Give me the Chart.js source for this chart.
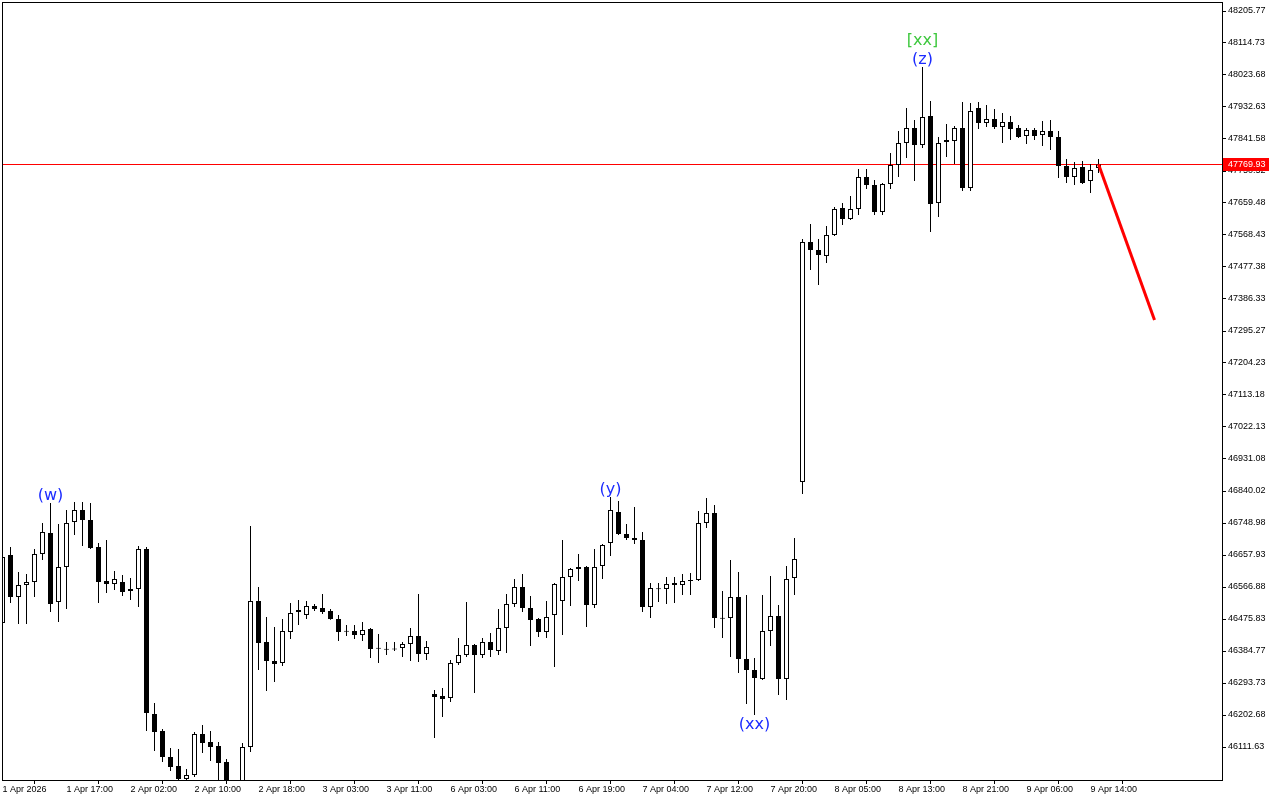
<!DOCTYPE html>
<html>
<head>
<meta charset="utf-8">
<script src="https://cdn.jsdelivr.net/npm/chart.js@4.4.1/dist/chart.umd.min.js"></script>
<style>
    html, body { margin: 0; padding: 0; background: #fff; }
    canvas { display: block; }
</style>
</head>
<body>
<canvas id="chartId" width="1280" height="800"></canvas>
<script>
// hourly bars
var opens = [46464.4, 46657.9, 46538.4, 46572.6, 46581.1, 46660.8, 46720.5, 46524.2, 46623.8, 46751.8,
    46786.0, 46757.5, 46680.7, 46584.0, 46575.4, 46581.1, 46555.5, 46561.2, 46675.0, 46205.5,
    46157.2, 46083.2, 46057.6, 46020.6, 46032.0, 46148.6, 46125.9, 46114.5, 46069.0, 46008.0,
    46012.1, 46111.6, 46527.0, 46410.4, 46356.3, 46350.6, 46438.8, 46495.8, 46487.2, 46512.8,
    46507.1, 46498.6, 46475.8, 46441.7, 46441.7, 46430.3, 46447.4, 46393.3, 46390.5, 46390.5,
    46393.3, 46404.7, 46427.5, 46376.2, 46262.4, 46256.7, 46251.1, 46350.6, 46373.4, 46401.9,
    46373.4, 46410.4, 46384.8, 46450.2, 46518.5, 46566.9, 46507.1, 46475.8, 46438.8, 46487.2,
    46527.0, 46595.3, 46618.1, 46623.8, 46515.7, 46626.6, 46692.1, 46780.3, 46717.7, 46706.3,
    46700.6, 46510.0, 46561.2, 46561.2, 46578.3, 46572.6, 46586.8, 46586.8, 46749.0, 46777.4,
    46478.7, 46478.7, 46538.4, 46362.0, 46330.7, 46305.1, 46441.7, 46484.4, 46305.1, 46592.5,
    46865.6, 47548.5, 47525.7, 47508.7, 47568.4, 47645.3, 47614.0, 47642.4, 47733.5, 47710.7,
    47633.9, 47713.5, 47767.6, 47830.2, 47872.9, 47824.5, 47907.0, 47659.5, 47833.0, 47835.9,
    47872.9, 47702.2, 47929.8, 47887.1, 47898.5, 47875.7, 47889.9, 47872.9, 47850.1, 47867.2,
    47853.0, 47864.3, 47847.3, 47764.8, 47733.5, 47761.9, 47722.1, 47759.1];
var highs = [46672.2, 46680.7, 46609.6, 46603.9, 46675.0, 46749.0, 46805.9, 46746.1, 46786.0, 46808.7,
    46808.7, 46805.9, 46692.1, 46700.6, 46612.4, 46601.0, 46592.5, 46683.5, 46680.7, 46236.8,
    46162.9, 46108.8, 46105.9, 46049.0, 46154.3, 46174.2, 46157.2, 46125.9, 46077.5, 46012.0,
    46123.0, 46740.4, 46566.9, 46481.5, 46453.1, 46475.8, 46521.4, 46529.9, 46527.0, 46518.5,
    46547.0, 46504.3, 46487.2, 46458.8, 46458.8, 46467.3, 46450.2, 46433.2, 46410.4, 46410.4,
    46410.4, 46450.2, 46547.0, 46413.2, 46273.8, 46279.5, 46359.2, 46421.8, 46524.2, 46404.7,
    46421.8, 46436.0, 46504.3, 46547.0, 46589.6, 46603.9, 46541.3, 46478.7, 46527.0, 46578.3,
    46700.6, 46620.9, 46660.8, 46626.6, 46675.0, 46689.2, 46823.0, 46811.6, 46746.1, 46794.5,
    46723.4, 46578.3, 46578.3, 46595.3, 46595.3, 46603.9, 46606.7, 46783.1, 46820.1, 46800.2,
    46555.5, 46643.7, 46609.6, 46544.1, 46364.9, 46544.1, 46598.2, 46515.7, 46626.6, 46706.3,
    47557.0, 47599.7, 47557.0, 47594.0, 47648.1, 47659.5, 47679.4, 47756.2, 47756.2, 47724.9,
    47716.4, 47801.7, 47864.3, 47929.8, 47895.6, 48046.4, 47949.7, 47847.3, 47884.3, 47878.6,
    47946.9, 47944.0, 47946.9, 47938.3, 47926.9, 47915.6, 47907.0, 47881.4, 47872.9, 47872.9,
    47892.8, 47895.6, 47864.3, 47784.7, 47776.1, 47779.0, 47770.4, 47784.7];
var lows = [46458.8, 46521.4, 46461.6, 46461.6, 46538.4, 46643.7, 46495.8, 46467.3, 46504.3, 46714.8,
    46683.5, 46675.0, 46521.4, 46549.8, 46558.3, 46541.3, 46529.9, 46510.0, 46157.2, 46100.3,
    46069.0, 46043.3, 46012.1, 46009.2, 46026.3, 46094.6, 46071.8, 46014.9, 46003.5, 45975.0,
    45989.3, 46097.4, 46330.7, 46271.0, 46296.6, 46342.1, 46418.9, 46458.8, 46475.8, 46498.6,
    46490.1, 46474.0, 46413.2, 46427.5, 46418.9, 46413.2, 46364.9, 46350.6, 46373.4, 46384.8,
    46367.7, 46356.3, 46353.5, 46359.2, 46137.2, 46197.0, 46239.7, 46345.0, 46367.7, 46265.3,
    46364.9, 46367.7, 46373.4, 46379.1, 46510.0, 46495.8, 46399.0, 46424.6, 46421.8, 46339.3,
    46430.3, 46512.8, 46584.0, 46453.1, 46507.1, 46589.6, 46655.1, 46714.8, 46700.6, 46689.2,
    46495.8, 46478.7, 46524.2, 46518.5, 46521.4, 46544.1, 46544.1, 46584.0, 46734.8, 46450.2,
    46421.8, 46367.7, 46322.2, 46234.0, 46202.7, 46302.3, 46399.0, 46259.6, 46245.4, 46544.1,
    46831.5, 47468.8, 47426.2, 47488.8, 47565.6, 47596.9, 47611.1, 47625.3, 47699.3, 47625.3,
    47625.3, 47699.3, 47733.5, 47787.5, 47722.1, 47816.0, 47577.0, 47619.6, 47790.4, 47770.4,
    47693.6, 47693.6, 47870.0, 47875.7, 47870.0, 47830.2, 47838.7, 47844.4, 47827.4, 47838.7,
    47821.7, 47810.3, 47730.6, 47716.4, 47710.7, 47713.5, 47687.9, 47744.8];
var closes = [46652.2, 46538.4, 46572.6, 46581.1, 46660.8, 46723.4, 46518.5, 46623.8, 46749.0, 46786.0,
    46757.5, 46677.9, 46581.1, 46575.4, 46589.6, 46552.7, 46561.2, 46675.0, 46208.4, 46154.3,
    46083.2, 46054.7, 46020.6, 46032.0, 46148.6, 46123.0, 46111.6, 46066.1, 46014.9, 46000.0,
    46111.6, 46527.0, 46407.5, 46356.3, 46347.8, 46441.7, 46492.9, 46501.4, 46512.8, 46504.3,
    46495.8, 46475.8, 46438.8, 46440.5, 46430.3, 46444.5, 46390.5, 46392.0, 46389.5, 46389.8,
    46404.7, 46427.5, 46376.2, 46396.2, 46253.9, 46248.2, 46350.6, 46373.4, 46401.9, 46373.4,
    46410.4, 46387.6, 46450.2, 46518.5, 46566.9, 46507.1, 46473.0, 46438.8, 46481.5, 46575.4,
    46595.3, 46618.1, 46623.8, 46515.7, 46623.8, 46686.4, 46786.0, 46717.7, 46706.3, 46700.6,
    46510.0, 46564.0, 46562.5, 46575.4, 46572.6, 46584.0, 46584.0, 46749.0, 46777.4, 46478.7,
    46477.3, 46538.4, 46362.0, 46330.7, 46308.0, 46441.7, 46484.4, 46305.1, 46589.6, 46646.6,
    47548.5, 47525.7, 47511.5, 47568.4, 47642.4, 47614.0, 47642.4, 47733.5, 47710.7, 47633.9,
    47713.5, 47767.6, 47830.2, 47872.9, 47824.5, 47904.2, 47656.6, 47830.2, 47838.7, 47872.9,
    47702.2, 47921.2, 47887.1, 47898.5, 47875.7, 47889.9, 47870.0, 47847.3, 47867.2, 47850.1,
    47864.3, 47847.3, 47764.8, 47733.5, 47759.1, 47716.4, 47753.4, 47769.93];

var timeLabels = ['1 Apr 2026', '1 Apr 17:00', '2 Apr 02:00', '2 Apr 10:00', '2 Apr 18:00', '3 Apr 03:00',
    '3 Apr 11:00', '6 Apr 03:00', '6 Apr 11:00', '6 Apr 19:00', '7 Apr 04:00', '7 Apr 12:00',
    '7 Apr 20:00', '8 Apr 05:00', '8 Apr 13:00', '8 Apr 21:00', '9 Apr 06:00', '9 Apr 14:00'];
var priceTicks = [48205.77, 48114.73, 48023.68, 47932.63, 47841.58, 47750.52, 47659.48, 47568.43,
    47477.38, 47386.33, 47295.27, 47204.23, 47113.18, 47022.13, 46931.08, 46840.02, 46748.98,
    46657.93, 46566.88, 46475.83, 46384.77, 46293.73, 46202.68, 46111.63];
var lastPrice = 47769.93;
var forecastX = [137, 144];
var forecastY = [47769.93, 47326.6];
var waveText = ['(w)', '(y)', '(xx)', '(z)', '[xx]'];
var waveIdx = [6, 76, 94, 115, 115];
var waveSide = ['high', 'high', 'low', 'high', 'high'];

var barsPerLabel = 8;
var fontName = '"Liberation Sans", Arial, sans-serif';

var wicks = [];
var bodies = [];
var bodyColors = [];
for (var i = 0; i < opens.length; i++) {
    var o = opens[i], c = closes[i];
    wicks.push({x: i, y: [lows[i], highs[i]]});
    if (Math.abs(o - c) < 2) {
        var mid = (o + c) / 2;
        bodies.push({x: i, y: [mid - 1.4, mid + 1.4]});
        bodyColors.push('#000000');
    } else {
        bodies.push({x: i, y: [Math.min(o, c), Math.max(o, c)]});
        bodyColors.push(c > o ? '#ffffff' : '#000000');
    }
}
var forecast = forecastX.map(function(x, k) { return {x: x, y: forecastY[k]}; });

var overlay = {
    id: 'overlay',
    beforeDatasetsDraw: function(chart) {
        var ctx = chart.ctx, a = chart.chartArea;
        var py = Math.round(chart.scales.y.getPixelForValue(lastPrice)) + 0.5;
        ctx.save();
        ctx.strokeStyle = '#ff0000';
        ctx.lineWidth = 1;
        ctx.beginPath();
        ctx.moveTo(a.left, py);
        ctx.lineTo(a.right, py);
        ctx.stroke();
        ctx.restore();
    },
    afterDraw: function(chart) {
        var ctx = chart.ctx, a = chart.chartArea;
        var xs = chart.scales.x, ys = chart.scales.y;
        ctx.save();
        // frame
        ctx.strokeStyle = '#000000';
        ctx.lineWidth = 1;
        ctx.strokeRect(a.left + 0.5, a.top + 0.5, a.right - a.left, a.bottom - a.top);

        // wave labels
        ctx.font = '16px "DejaVu Sans", sans-serif';
        ctx.textAlign = 'center';
        ctx.textBaseline = 'middle';
        var stack = {};
        for (var k = 0; k < waveText.length; k++) {
            var i = waveIdx[k];
            var n = stack[i] || 0;
            stack[i] = n + 1;
            var px = xs.getPixelForValue(i);
            var ty;
            if (waveSide[k] === 'high') {
                ty = ys.getPixelForValue(highs[i]) - 7 - n * 19;
            } else {
                ty = ys.getPixelForValue(lows[i]) + 10;
            }
            ctx.fillStyle = waveText[k].charAt(0) === '[' ? '#3ec83e' : '#1c2cff';
            ctx.fillText(waveText[k], px, ty);
        }

        // last price tag
        var py = Math.round(ys.getPixelForValue(lastPrice));
        ctx.fillStyle = '#ff0000';
        ctx.fillRect(a.right + 1, py - 6, 46, 13);
        ctx.fillStyle = '#ffffff';
        ctx.font = '9px ' + fontName;
        ctx.textAlign = 'left';
        ctx.textBaseline = 'middle';
        ctx.fillText(lastPrice.toFixed(2), a.right + 6, py + 1);
        ctx.restore();
    }
};

var chart = new Chart(document.getElementById('chartId').getContext('2d'), {
    type: 'bar',
    data: {
        datasets: [{
            label: 'bodies',
            data: bodies,
            backgroundColor: bodyColors,
            borderColor: '#000000',
            borderWidth: 1,
            borderSkipped: false,
            barThickness: 5,
            inflateAmount: 0,
            grouped: false,
            clip: 0,
            order: 1
        }, {
            label: 'wicks',
            data: wicks,
            backgroundColor: '#000000',
            borderWidth: 0,
            barThickness: 1,
            inflateAmount: 0,
            grouped: false,
            clip: 0,
            order: 2
        }, {
            type: 'line',
            label: 'forecast',
            data: forecast,
            borderColor: '#ff0000',
            borderWidth: 3,
            pointRadius: 0,
            order: 0
        }]
    },
    options: {
        responsive: false,
        animation: false,
        layout: { padding: { left: 2, top: 2, right: 0, bottom: 0 } },
        plugins: {
            legend: { display: false },
            tooltip: { enabled: false }
        },
        scales: {
            x: {
                type: 'linear',
                offset: false,
                min: -0.0625,
                max: 152.4375,
                border: { display: false },
                grid: { drawOnChartArea: false, drawTicks: true, tickLength: 4, color: '#000000' },
                ticks: {
                    align: 'start',
                    autoSkip: false,
                    maxRotation: 0,
                    padding: 0,
                    color: '#000000',
                    font: { family: fontName, size: 9 },
                    callback: function(value, index) { return timeLabels[index]; }
                },
                afterBuildTicks: function(scale) {
                    scale.ticks = timeLabels.map(function(t, k) { return {value: k * barsPerLabel}; });
                },
                afterFit: function(scale) {
                    scale.height = 20;
                    scale.paddingLeft = 0;
                    scale.paddingRight = 0;
                }
            },
            y: {
                position: 'right',
                min: 46017.74,
                max: 48231.38,
                border: { display: false },
                grid: { drawOnChartArea: false, drawTicks: true, tickLength: 4, color: '#000000' },
                ticks: {
                    padding: 2,
                    color: '#000000',
                    font: { family: fontName, size: 9 },
                    callback: function(value) { return Number(value).toFixed(2); }
                },
                afterBuildTicks: function(scale) {
                    scale.ticks = priceTicks.map(function(v) { return {value: v}; });
                },
                afterFit: function(scale) {
                    scale.width = 58;
                    scale.paddingTop = 0;
                    scale.paddingBottom = 0;
                }
            }
        }
    },
    plugins: [overlay]
});
</script>
</body>
</html>
